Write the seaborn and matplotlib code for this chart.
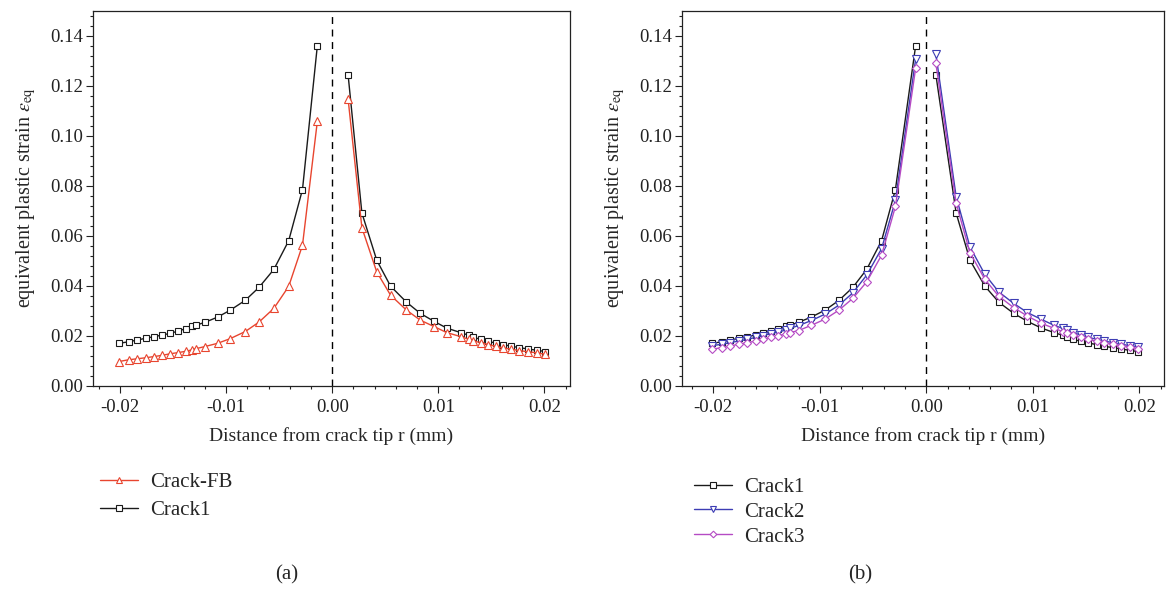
import numpy as np
import pandas as pd
import seaborn as sns
import matplotlib.pyplot as plt
from matplotlib.ticker import MultipleLocator

# x positions (mm) of nodes on each side of the crack tip
xa_neg = [-0.0201, -0.0192, -0.0184, -0.0176, -0.0168, -0.0160, -0.0153, -0.0145, -0.0138, -0.0132,
          -0.0128, -0.0120, -0.0108, -0.0096, -0.0082, -0.0069, -0.0055, -0.0041, -0.0028, -0.0014]
xa_pos = [0.0015, 0.0028, 0.0042, 0.0055, 0.0070, 0.0083, 0.0096, 0.0108, 0.0121, 0.0129,
          0.0133, 0.0140, 0.0147, 0.0154, 0.0161, 0.0169, 0.0176, 0.0185, 0.0193, 0.0201]
xb_neg = [-0.0201, -0.0192, -0.0184, -0.0176, -0.0168, -0.0160, -0.0153, -0.0146, -0.0139, -0.0132,
          -0.0128, -0.0120, -0.0108, -0.0095, -0.0082, -0.0069, -0.0056, -0.0042, -0.0029, -0.0010]
xb_pos = [0.0009, 0.0028, 0.0041, 0.0055, 0.0068, 0.0082, 0.0095, 0.0108, 0.0120, 0.0128,
          0.0132, 0.0138, 0.0145, 0.0152, 0.0160, 0.0167, 0.0175, 0.0183, 0.0191, 0.0199]

# equivalent plastic strain
crack1_neg = [0.0169, 0.0175, 0.0182, 0.0189, 0.0196, 0.0202, 0.0209, 0.0218, 0.0228, 0.0237,
              0.0242, 0.0253, 0.0274, 0.0302, 0.0341, 0.0393, 0.0465, 0.0580, 0.0785, 0.1361]
crack1_pos = [0.1244, 0.0691, 0.0502, 0.0398, 0.0334, 0.0289, 0.0257, 0.0230, 0.0212, 0.0201,
              0.0193, 0.0185, 0.0177, 0.0170, 0.0164, 0.0157, 0.0152, 0.0146, 0.0141, 0.0136]
fb_neg = [0.0096, 0.0103, 0.0107, 0.0111, 0.0116, 0.0121, 0.0127, 0.0132, 0.0137, 0.0143,
          0.0148, 0.0156, 0.0169, 0.0188, 0.0216, 0.0254, 0.0309, 0.0397, 0.0562, 0.1058]
fb_pos = [0.1147, 0.0632, 0.0455, 0.0362, 0.0302, 0.0262, 0.0236, 0.0212, 0.0196, 0.0185,
          0.0178, 0.0172, 0.0164, 0.0157, 0.0151, 0.0145, 0.0140, 0.0135, 0.0131, 0.0125]
crack2_neg = [0.0160, 0.0165, 0.0172, 0.0178, 0.0185, 0.0193, 0.0200, 0.0208, 0.0214, 0.0222,
              0.0229, 0.0240, 0.0260, 0.0286, 0.0322, 0.0371, 0.0442, 0.0548, 0.0741, 0.1307]
crack2_pos = [0.1327, 0.0757, 0.0555, 0.0445, 0.0375, 0.0329, 0.0292, 0.0265, 0.0241, 0.0229,
              0.0222, 0.0212, 0.0202, 0.0193, 0.0185, 0.0178, 0.0172, 0.0165, 0.0160, 0.0155]
crack3_neg = [0.0145, 0.0152, 0.0159, 0.0165, 0.0172, 0.0178, 0.0186, 0.0193, 0.0200, 0.0206,
              0.0212, 0.0220, 0.0241, 0.0266, 0.0302, 0.0349, 0.0415, 0.0522, 0.0717, 0.1271]
crack3_pos = [0.1290, 0.0731, 0.0532, 0.0425, 0.0358, 0.0312, 0.0278, 0.0249, 0.0229, 0.0216,
              0.0209, 0.0201, 0.0193, 0.0185, 0.0177, 0.0172, 0.0165, 0.0160, 0.0153, 0.0148]

RED = "#E8452F"
BLACK = "#1a1a1a"
BLUE = "#3D3DB4"
MAGENTA = "#B54BC4"

sns.set_style("ticks")
plt.rcParams["font.family"] = ["Liberation Serif", "DejaVu Serif"]
plt.rcParams["mathtext.fontset"] = "stix"

W, H = 1167, 590
fig = plt.figure(figsize=(W / 100, H / 100), dpi=100)
ax_a = fig.add_axes([93 / W, 1 - 385.5 / H, (570 - 93) / W, (385.5 - 11) / H])
ax_b = fig.add_axes([682 / W, 1 - 385.5 / H, (1164 - 682) / W, (385.5 - 11) / H])


def draw(ax, xn, yn, xp, yp, color, marker, ms, label):
    kw = dict(color=color, marker=marker, markersize=ms, markerfacecolor="white",
              markeredgecolor=color, markeredgewidth=0.8, linewidth=1.0, sort=False, ax=ax)
    sns.lineplot(x=xn, y=yn, label=label, **kw)
    sns.lineplot(x=xp, y=yp, **kw)


draw(ax_a, xa_neg, crack1_neg, xa_pos, crack1_pos, BLACK, "s", 5, "Crack1")
draw(ax_a, xa_neg, fb_neg, xa_pos, fb_pos, RED, "^", 6, "Crack-FB")

draw(ax_b, xb_neg, crack1_neg, xb_pos, crack1_pos, BLACK, "s", 5, "Crack1")
draw(ax_b, xb_neg, crack2_neg, xb_pos, crack2_pos, BLUE, "v", 6, "Crack2")
draw(ax_b, xb_neg, crack3_neg, xb_pos, crack3_pos, MAGENTA, "D", 4.5, "Crack3")

for ax, xlim in [(ax_a, (-0.02255, 0.02242)), (ax_b, (-0.02294, 0.02232))]:
    ax.axvline(0, color="black", linestyle=(0, (5, 4)), linewidth=1.0, zorder=0)
    ax.set_xlim(*xlim)
    ax.set_ylim(0, 0.15)
    ax.xaxis.set_major_locator(MultipleLocator(0.01))
    ax.xaxis.set_minor_locator(MultipleLocator(0.002))
    ax.yaxis.set_major_locator(MultipleLocator(0.02))
    ax.yaxis.set_minor_locator(MultipleLocator(0.004))
    ax.xaxis.set_major_formatter(plt.FuncFormatter(lambda v, p: f"{v:.2f}".replace("-0.00", "0.00")))
    ax.yaxis.set_major_formatter(plt.FuncFormatter(lambda v, p: f"{v:.2f}"))
    ax.set_yticks([0, 0.02, 0.04, 0.06, 0.08, 0.10, 0.12, 0.14])
    ax.tick_params(which="both", direction="out", width=0.8, labelsize=13.5, colors="#222222")
    ax.tick_params(which="major", length=5)
    ax.tick_params(which="minor", length=2.5)
    ax.tick_params(axis="x", pad=5)
    ax.tick_params(axis="y", pad=2)
    for s in ax.spines.values():
        s.set_linewidth(0.9)
        s.set_color("#222222")
    ax.set_xlabel("Distance from crack tip r (mm)", fontsize=14, labelpad=8)
    ax.set_ylabel(r"equivalent plastic strain $\varepsilon_{\mathrm{eq}}$", fontsize=14.5, labelpad=9)
    if ax.get_legend() is not None:
        ax.get_legend().remove()

# legends below each panel
ha, la = ax_a.get_legend_handles_labels()
order_a = [la.index("Crack-FB"), la.index("Crack1")]
fig.legend([ha[i] for i in order_a], [la[i] for i in order_a], loc="upper left",
           bbox_to_anchor=(90 / W, 1 - 462 / H), frameon=False, fontsize=15,
           borderpad=0, handlelength=1.8, handletextpad=0.6, labelspacing=0.4, markerscale=0.75)
hb, lb = ax_b.get_legend_handles_labels()
fig.legend(hb, lb, loc="upper left", bbox_to_anchor=(684 / W, 1 - 467 / H), frameon=False,
           fontsize=15, borderpad=0, handlelength=1.8, handletextpad=0.6, labelspacing=0.25,
           markerscale=0.75)

fig.text(287 / W, 1 - 575 / H, "(a)", ha="center", va="center", fontsize=15)
fig.text(860 / W, 1 - 575 / H, "(b)", ha="center", va="center", fontsize=15)

fig.savefig("out.png", dpi=100)
